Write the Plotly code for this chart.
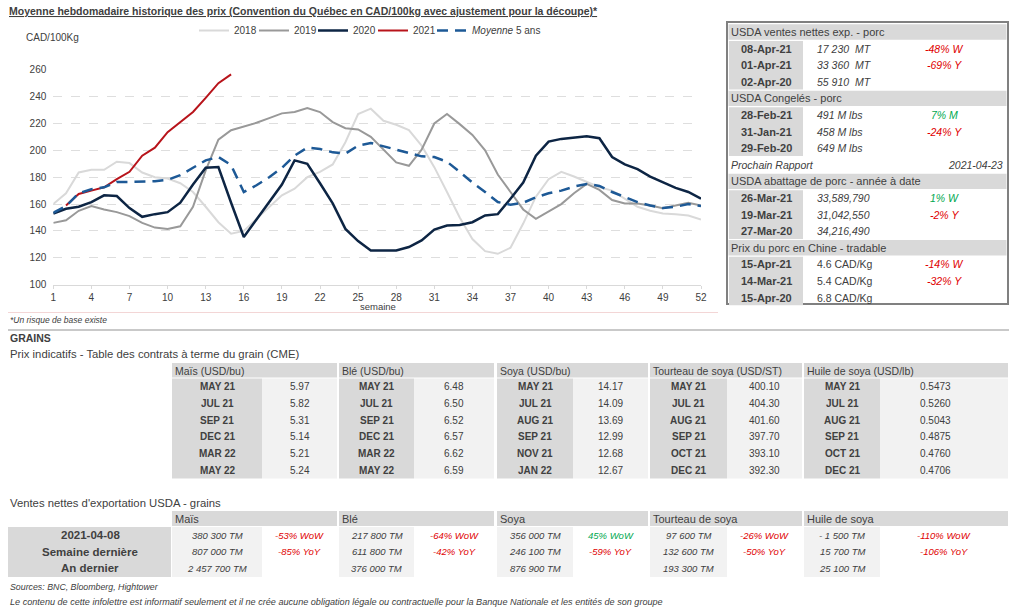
import plotly.graph_objects as go

W, H = 1024, 611
FONT = "Liberation Sans"
DARK = "#404040"
RED = "#e00000"
GREEN = "#00a84f"
GRAYFILL = "#d9d9d9"
LIGHTFILL = "#f2f2f2"

# ---------------- chart data ----------------
weeks = list(range(1, 53))
week_ticks = list(range(1, 53, 3))
y_ticks = list(range(100, 261, 20))

prix_2018 = [160, 168, 183.5, 185.5, 185.5, 191.5, 190.5, 183.5, 180, 179,
             175.5, 169, 158, 146.5, 138, 140, 149, 158, 166.5, 171.5,
             180, 184, 189.5, 206, 227, 231, 222, 219, 215, 203.5,
             187.5, 169, 150, 134, 125, 123, 127.5, 145.5, 165.5, 178.5,
             184, 180.5, 176.5, 172.5, 170, 164, 158, 155, 153, 152.5,
             151.5, 148.5]
prix_2019 = [146, 148, 155, 158.5, 156, 154, 151, 146, 142.5, 141.5,
             143.5, 158, 185, 208, 215, 217.5, 220.5, 224, 227.5, 228.5,
             231.5, 228.5, 221, 216.5, 215.5, 210, 200.5, 191, 188.5, 200.5,
             220, 227, 219.5, 211.5, 200, 182, 169, 156, 149, 154.5,
             160, 168, 175, 170.5, 163, 160.5, 160.5, 159, 157, 159,
             161, 159]
prix_2020 = [153, 156.5, 158, 161.5, 166.5, 166, 157, 150.5, 152.5, 154,
             161, 174.5, 187, 187.5, 161, 135.5, 148.5, 161.5, 174.5, 192.5,
             190, 175.5, 160.5, 141.5, 132.5, 125.5, 125.5, 125.5, 128, 133,
             141, 144, 144.5, 146.5, 151.5, 152.5, 164, 176, 196, 206.5,
             208.5, 209.5, 210.5, 209, 195, 189.5, 186, 180.5, 176, 172,
             169, 164]
weeks_2021 = list(range(2, 16))
prix_2021 = [159, 167.5, 170, 172.5, 178.5, 184, 196, 202, 213.5, 221,
             228.5, 239, 250, 256.5]
moyenne_5ans = [153.5, 158.5, 168, 171, 172.5, 176.5, 176.5, 176.5, 177, 178,
                181.5, 187, 192.5, 195, 189, 169, 174, 180, 187, 196,
                202, 201, 198.5, 197.5, 203.5, 205.5, 203, 200.5, 197.5, 195.5,
                195, 191.5, 184, 176, 169, 161.5, 159.5, 161, 165, 168,
                170, 173, 175, 173.5, 169, 165.5, 161.5, 159, 157, 158,
                160, 158.5]

# ---------------- pork panel data ----------------
porc_export_title = "USDA ventes nettes exp. - porc"
porc_export_dates = ["08-Apr-21", "01-Apr-21", "02-Apr-20"]
porc_export_values = ["17 230\u00a0\u00a0MT", "33 360\u00a0\u00a0MT", "55 910\u00a0\u00a0MT"]
porc_export_changes = ["-48% W", "-69% Y", ""]

porc_congeles_title = "USDA Congelés - porc"
porc_congeles_dates = ["28-Feb-21", "31-Jan-21", "29-Feb-20"]
porc_congeles_values = ["491 M lbs", "458 M lbs", "649 M lbs"]
porc_congeles_changes = ["7% M", "-24% Y", ""]

prochain_label = "Prochain Rapport"
prochain_date = "2021-04-23"

abattage_title = "USDA abattage de porc - année à date"
abattage_dates = ["26-Mar-21", "19-Mar-21", "27-Mar-20"]
abattage_values = ["33,589,790", "31,042,550", "34,216,490"]
abattage_changes = ["1% W", "-2% Y", ""]

chine_title = "Prix du porc en Chine - tradable"
chine_dates = ["15-Apr-21", "14-Mar-21", "15-Apr-20"]
chine_values = ["4.6 CAD/Kg", "5.4 CAD/Kg", "6.8 CAD/Kg"]
chine_changes = ["-14% W", "-32% Y", ""]

# ---------------- futures data ----------------
fut_headers = ["Maïs (USD/bu)", "Blé (USD/bu)", "Soya (USD/bu)",
               "Tourteau de soya (USD/ST)", "Huile de soya (USD/lb)"]
mais_mois = ["MAY 21", "JUL 21", "SEP 21", "DEC 21", "MAR 22", "MAY 22"]
mais_prix = [5.97, 5.82, 5.31, 5.14, 5.21, 5.24]
ble_mois = ["MAY 21", "JUL 21", "SEP 21", "DEC 21", "MAR 22", "MAY 22"]
ble_prix = [6.48, 6.50, 6.52, 6.57, 6.62, 6.59]
soya_mois = ["MAY 21", "JUL 21", "AUG 21", "SEP 21", "NOV 21", "JAN 22"]
soya_prix = [14.17, 14.09, 13.69, 12.99, 12.68, 12.67]
tourteau_mois = ["MAY 21", "JUL 21", "AUG 21", "SEP 21", "OCT 21", "DEC 21"]
tourteau_prix = [400.10, 404.30, 401.60, 397.70, 393.10, 392.30]
huile_mois = ["MAY 21", "JUL 21", "AUG 21", "SEP 21", "OCT 21", "DEC 21"]
huile_prix = [0.5473, 0.5260, 0.5043, 0.4875, 0.4760, 0.4706]

# ---------------- export sales data ----------------
export_row_labels = ["2021-04-08", "Semaine dernière", "An dernier"]
export_headers = ["Maïs", "Blé", "Soya", "Tourteau de soya", "Huile de soya"]
mais_ventes = ["380 300 TM", "807 000 TM", "2 457 700 TM"]
mais_var = ["-53% WoW", "-85% YoY", ""]
ble_ventes = ["217 800 TM", "611 800 TM", "376 000 TM"]
ble_var = ["-64% WoW", "-42% YoY", ""]
soya_ventes = ["356 000 TM", "246 100 TM", "876 900 TM"]
soya_var = ["45% WoW", "-59% YoY", ""]
tourteau_ventes = ["97 600 TM", "132 600 TM", "193 300 TM"]
tourteau_var = ["-26% WoW", "-50% YoY", ""]
huile_ventes = ["- 1 500 TM", "15 700 TM", "25 100 TM"]
huile_var = ["-110% WoW", "-106% YoY", ""]

# ---------------- helpers (pixel -> paper fraction) ----------------
shapes, annotations = [], []


def X(px):
    return px / W


def Y(py):
    return 1 - py / H


def rect(x0, y0, x1, y1, fill, line_color=None, line_width=0):
    shapes.append(dict(type="rect", xref="paper", yref="paper",
                       x0=X(x0), x1=X(x1), y0=Y(y1), y1=Y(y0),
                       fillcolor=fill,
                       line=dict(width=line_width, color=line_color or fill)))


def hline(x0, x1, y, color, width=1):
    shapes.append(dict(type="line", xref="paper", yref="paper",
                       x0=X(x0), x1=X(x1), y0=Y(y), y1=Y(y),
                       line=dict(color=color, width=width)))


def text(x, y, s, size=10, color=DARK, anchor="left", bold=False, italic=False, under=False):
    f = dict(family=FONT, size=size, color=color,
             weight="bold" if bold else "normal",
             style="italic" if italic else "normal")
    if under:
        f["lineposition"] = "under"
    annotations.append(dict(xref="paper", yref="paper", x=X(x), y=Y(y), text=s,
                            showarrow=False, xanchor=anchor, yanchor="middle",
                            borderpad=0, font=f))


def change_color(s):
    return RED if s.startswith("-") else GREEN


# ---------------- figure & chart ----------------
fig = go.Figure()
series = [
    ("2018", weeks, prix_2018, "#d9d9d9", 2, "solid"),
    ("2019", weeks, prix_2019, "#999999", 2, "solid"),
    ("2020", weeks, prix_2020, "#0d2544", 2.5, "solid"),
    ("2021", weeks_2021, prix_2021, "#b8141b", 2, "solid"),
    ("<i>Moyenne</i> 5 ans", weeks, moyenne_5ans, "#1d5996", 2.5, "11px,7px"),
]
legend_ids = ["legend", "legend2", "legend3", "legend4", "legend5"]
legend_x = [194, 254, 313, 373, 432]
for (name, xs, ys, col, wd, dash), leg in zip(series, legend_ids):
    fig.add_trace(go.Scatter(x=xs, y=ys, name=name, mode="lines", legend=leg,
                             line=dict(color=col, width=wd, dash=dash)))

text(8, 11, "Moyenne hebdomadaire historique des prix (Convention du Québec en CAD/100kg avec ajustement pour la découpe)*",
     size=10.5, bold=True, under=True)
text(25, 37, "CAD/100Kg", size=10)
text(378, 306.5, "semaine", size=9.5, anchor="center")
text(9, 320, "*Un risque de base existe", size=8.5, italic=True)

hline(8, 718, 312.5, "#f3d6d6", 1)
hline(8, 1009, 330, "#c9c9c9", 2)

# ---------------- pork panel ----------------
PX0, PX1 = 727, 1008
ROW0, RH = 32, 16.6
rect(PX0, 22, PX1, 304, "rgba(0,0,0,0)", "#808080", 2)

sections = [
    (porc_export_title, porc_export_dates, porc_export_values, porc_export_changes, True),
    (porc_congeles_title, porc_congeles_dates, porc_congeles_values, porc_congeles_changes, True),
    None,
    (abattage_title, abattage_dates, abattage_values, abattage_changes, True),
    (chine_title, chine_dates, chine_values, chine_changes, False),
]
r = 0
for sec in sections:
    if sec is None:
        cy = ROW0 + r * RH
        text(730, cy, prochain_label, size=10.5, italic=True)
        text(1004, cy, prochain_date, size=10.5, italic=True, anchor="right")
        r += 1
        continue
    title, dates, vals, chg, ital = sec
    cy = ROW0 + r * RH
    rect(PX0 + 1.5, cy - RH / 2 + 0.6, PX1 - 1.5, cy + RH / 2 - 0.6, GRAYFILL)
    text(730, cy, title, size=11)
    r += 1
    y_top = ROW0 + r * RH - RH / 2 + 0.6
    rect(729, y_top, 803, y_top + 3 * RH - 1.2, GRAYFILL)
    for d, v, c in zip(dates, vals, chg):
        cy = ROW0 + r * RH
        text(766, cy, d, size=11, bold=True, anchor="center")
        text(816, cy, v, size=10.5, italic=ital)
        if c:
            text(944, cy, c, size=10.5, italic=True, color=change_color(c), anchor="center")
        r += 1

# ---------------- futures table ----------------
text(9, 338, "GRAINS", size=10.5, bold=True)
text(9, 353.5, "Prix indicatifs - Table des contrats à terme du grain (CME)", size=11.3)

col_geo = [(172, 262, 337), (339, 414, 494), (497, 573, 648), (650, 727, 802), (804, 880, 1008)]
fut_mois = [mais_mois, ble_mois, soya_mois, tourteau_mois, huile_mois]
fut_prix = [mais_prix, ble_prix, soya_prix, tourteau_prix, huile_prix]
fut_fmt = ["{:.2f}", "{:.2f}", "{:.2f}", "{:.2f}", "{:.4f}"]
FH0, FH1 = 363, 378
FR0, FRH = 386.7, 16.67
for (a, b, c), hdr, mois, prix, fmt in zip(col_geo, fut_headers, fut_mois, fut_prix, fut_fmt):
    rect(a, FH0, c, FH1 - 0.5, GRAYFILL)
    text(a + 2, (FH0 + FH1) / 2, hdr, size=10.5)
    rect(a, FH1 + 0.5, b, FH1 + 0.5 + 6 * FRH, GRAYFILL)
    rect(b, FH1 + 0.5, c, FH1 + 0.5 + 6 * FRH, LIGHTFILL)
    for i, (m, p) in enumerate(zip(mois, prix)):
        cy = FR0 + i * FRH
        text((a + b) / 2, cy, m, size=10, bold=True, anchor="center")
        text((b + c) / 2 if c - b < 100 else b + 55, cy, fmt.format(p), size=10, anchor="center")

# ---------------- export sales table ----------------
text(9, 503, "Ventes nettes d'exportation USDA - grains", size=11.3)
EH0, EH1 = 511, 526.5
ER0, ERH = 535, 16.67
exp_ventes = [mais_ventes, ble_ventes, soya_ventes, tourteau_ventes, huile_ventes]
exp_var = [mais_var, ble_var, soya_var, tourteau_var, huile_var]
rect(8, EH1 + 0.5, 171, EH1 + 0.5 + 3 * ERH, GRAYFILL)
for i, lab in enumerate(export_row_labels):
    text(90, ER0 + i * ERH, lab, size=11.5, bold=True, anchor="center")
for (a, b, c), hdr, ventes, var in zip(col_geo, export_headers, exp_ventes, exp_var):
    rect(a, EH0, c, EH1 - 0.5, GRAYFILL)
    text(a + 2, (EH0 + EH1) / 2, hdr, size=11)
    rect(a, EH1 + 0.5, b, EH1 + 0.5 + 3 * ERH, LIGHTFILL)
    for i, (v, pc) in enumerate(zip(ventes, var)):
        cy = ER0 + i * ERH
        text((a + b) / 2, cy, v, size=9.5, italic=True, anchor="center")
        if pc:
            text((b + c) / 2, cy, pc, size=9.5, italic=True, color=change_color(pc), anchor="center")

text(9, 587, "Sources: BNC, Bloomberg, Hightower", size=8.8, italic=True)
text(9, 602, "Le contenu de cette infolettre est informatif seulement et il ne crée aucune obligation légale ou contractuelle pour la Banque Nationale et les entités de son groupe",
     size=9.1, italic=True)

legend_common = dict(orientation="h", yanchor="top", xanchor="left",
                     font=dict(family=FONT, size=10, color=DARK),
                     bgcolor="rgba(0,0,0,0)", itemwidth=30, tracegroupgap=0)
legends = {lid: dict(x=X(lx), y=Y(16), **legend_common) for lid, lx in zip(legend_ids, legend_x)}

fig.update_layout(
    width=W, height=H, margin=dict(l=0, r=0, t=0, b=0, autoexpand=False),
    paper_bgcolor="white", plot_bgcolor="white",
    font=dict(family=FONT, size=10, color=DARK),
    shapes=shapes, annotations=annotations,
    showlegend=True,
    xaxis=dict(domain=[X(53.3), X(701)], range=[1, 52], tickvals=week_ticks,
               showgrid=False, showline=True, linecolor="#d9d9d9", linewidth=1,
               ticks="outside", ticklen=3, tickcolor="#d9d9d9", automargin=False,
               tickfont=dict(family=FONT, size=10, color=DARK), zeroline=False),
    yaxis=dict(domain=[Y(284.7), Y(69.7)], range=[100, 260], tickvals=y_ticks,
               showgrid=True, gridcolor="#dedede", griddash="dash", gridwidth=1,
               zeroline=False, showline=False, ticks="", automargin=False,
               ticklabelstandoff=6,
               tickfont=dict(family=FONT, size=10, color=DARK)),
    **legends,
)

fig.write_html("out.html", config={"displayModeBar": False},
               post_script="document.body.style.margin='0';document.body.style.overflow='hidden';")
